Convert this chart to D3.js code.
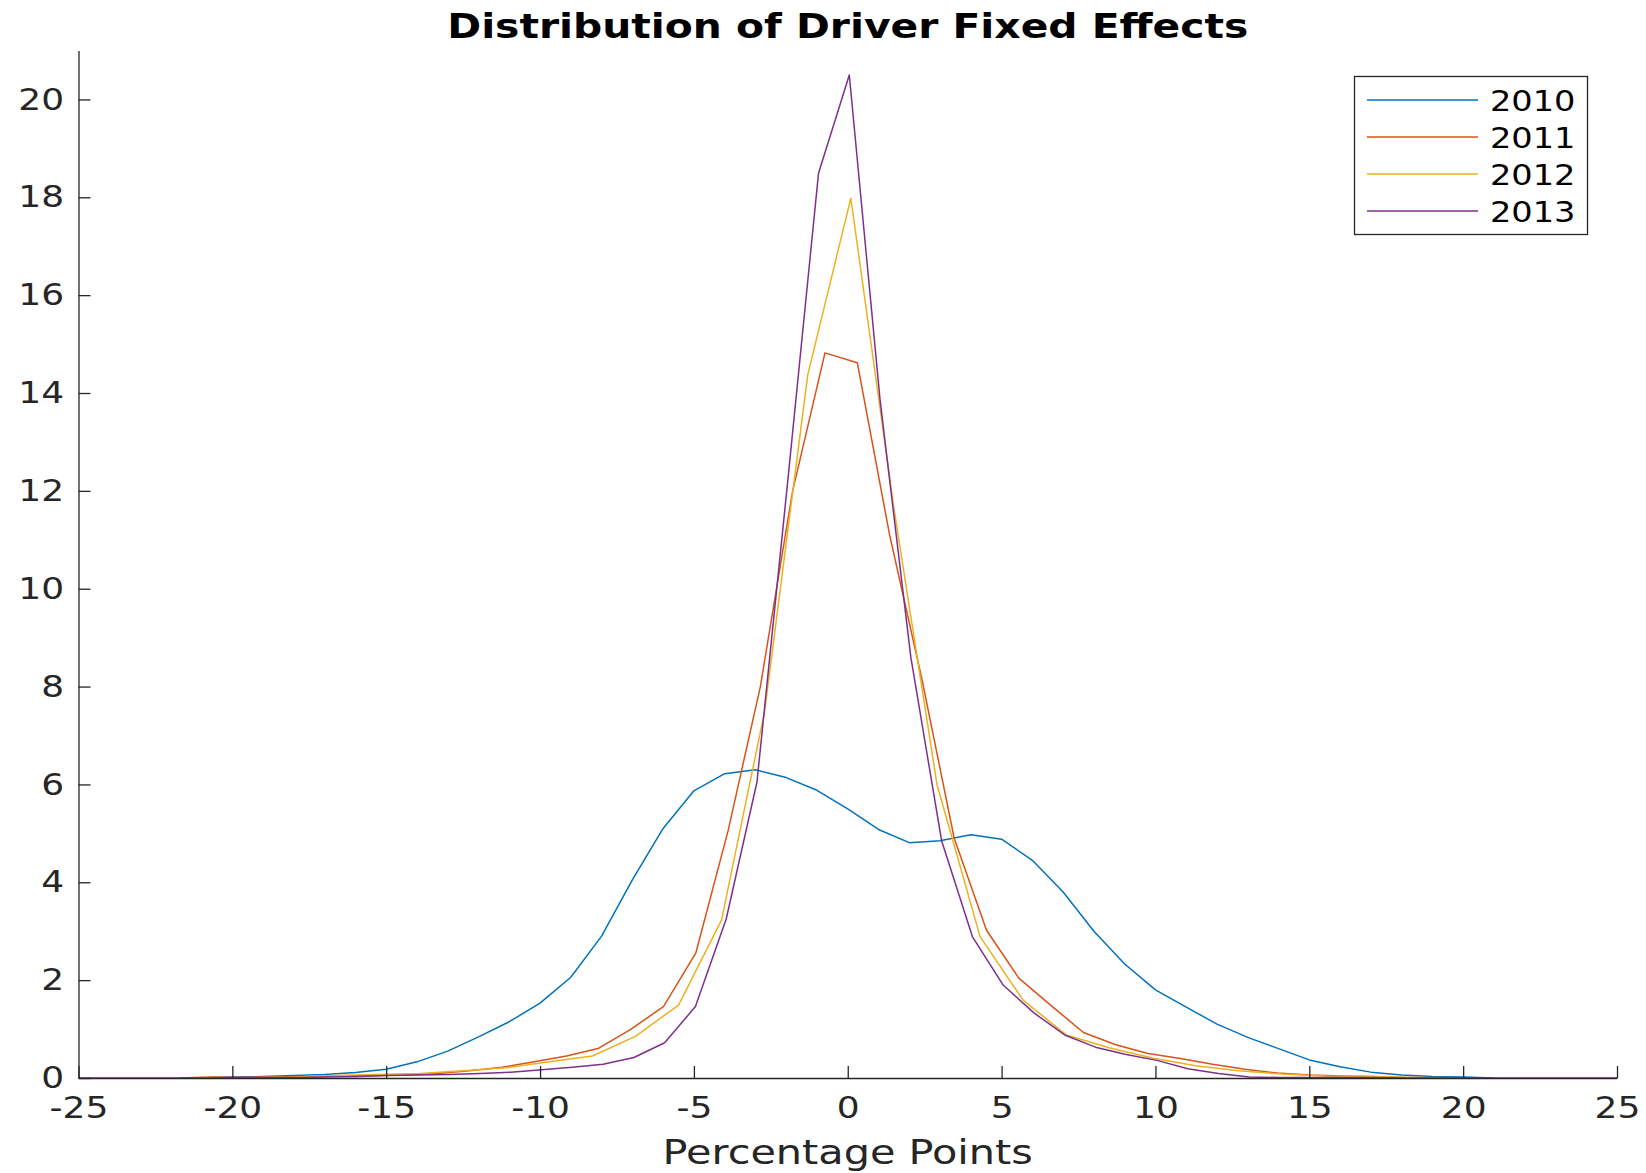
<!DOCTYPE html>
<html>
<head>
<meta charset="utf-8">
<script src="https://cdn.jsdelivr.net/npm/d3@7"></script>
<style>
  body { margin: 0; background: #fff; }
  svg { display: block; }
</style>
</head>
<body>
<div id="chart"></div>
<script>
// series
const years = ["2010", "2011", "2012", "2013"];
const colors = ["#0072BD", "#D95319", "#EDB120", "#7E2F8E"];

const x2010 = [-21, -20, -19, -18, -17, -16, -15, -14, -13, -12, -11, -10, -9, -8, -7, -6, -5, -4, -3, -2, -1,
  0, 1, 2, 3, 4, 5, 6, 7, 8, 9, 10, 11, 12, 13, 14, 15, 16, 17, 18, 19, 20, 21];
const y2010 = [0, 0.02, 0.03, 0.05, 0.07, 0.11, 0.18, 0.33, 0.55, 0.84, 1.15, 1.53, 2.06, 2.9, 4.05, 5.1, 5.87, 6.22, 6.3, 6.14, 5.88,
  5.5, 5.08, 4.81, 4.85, 4.97, 4.88, 4.45, 3.8, 3.0, 2.33, 1.8, 1.45, 1.1, 0.83, 0.6, 0.37, 0.23, 0.12, 0.06, 0.03, 0.02, 0];

const x2011 = [-21.74, -20.69, -19.64, -18.59, -17.54, -16.49, -15.44, -14.39, -13.34, -12.29, -11.24, -10.19, -9.14, -8.09,
  -7.04, -5.99, -4.94, -3.89, -2.84, -1.79, -0.74, 0.31, 1.36, 2.41, 3.46, 4.51, 5.56, 6.61, 7.66, 8.71, 9.76,
  10.81, 11.86, 12.91, 13.96, 15.01, 16.06, 17.11, 18.16, 19.21, 20.26];
const y2011 = [0, 0.02, 0.01, 0.02, 0.03, 0.04, 0.05, 0.06, 0.09, 0.15, 0.22, 0.33, 0.45, 0.61,
  1.0, 1.46, 2.55, 5.05, 8.0, 12.0, 14.82, 14.62, 11.1, 8.15, 4.9, 3.02, 2.04, 1.48, 0.93, 0.68, 0.5,
  0.4, 0.28, 0.18, 0.1, 0.06, 0.04, 0.03, 0.01, 0.01, 0];

const x2012 = [-20.9, -19.5, -18.1, -16.7, -15.3, -13.9, -12.5, -11.1, -9.7, -8.3, -6.9, -5.5, -4.1, -2.7, -1.3,
  0.1, 1.5, 2.9, 4.3, 5.7, 7.1, 8.5, 9.9, 11.3, 12.7, 14.1, 15.5, 16.9, 18.3, 19.7];
const y2012 = [0, 0.01, 0.02, 0.05, 0.07, 0.09, 0.15, 0.21, 0.33, 0.45, 0.85, 1.49, 3.23, 7.5, 14.37,
  17.98, 11.65, 6.0, 2.89, 1.59, 0.88, 0.62, 0.41, 0.25, 0.15, 0.08, 0.04, 0.03, 0.01, 0];

const x2013 = [-25, -20.95, -19.95, -18.95, -17.95, -16.95, -15.95, -14.95, -13.95, -12.95, -11.95, -10.95, -9.95, -8.95,
  -7.95, -6.95, -5.95, -4.95, -3.95, -2.95, -1.95, -0.95, 0.05, 1.05, 2.05, 3.05, 4.05, 5.05, 6.05, 7.05, 8.05,
  9.05, 10.05, 11.05, 12.05, 13.05, 14.05, 15.05, 16.05, 17.05, 18.05, 25];
const y2013 = [0, 0, 0.01, 0.01, 0.01, 0.02, 0.03, 0.05, 0.06, 0.07, 0.09, 0.12, 0.17, 0.22,
  0.28, 0.42, 0.72, 1.46, 3.25, 6.05, 12.2, 18.49, 20.5, 13.86, 8.6, 4.85, 2.89, 1.9, 1.33, 0.88, 0.63,
  0.48, 0.36, 0.19, 0.09, 0.02, 0.01, 0.01, 0.01, 0.01, 0, 0];

const xTicks = [-25, -20, -15, -10, -5, 0, 5, 10, 15, 20, 25];
const yTicks = [0, 2, 4, 6, 8, 10, 12, 14, 16, 18, 20];

const seriesX = [x2010, x2011, x2012, x2013];
const seriesY = [y2010, y2011, y2012, y2013];

// page size and plot box
const W = 1646, H = 1173;
const plot = { left: 78.5, right: 1617, top: 50.5, bottom: 1078 };
const axisColor = "#262626";
const font = "'DejaVu Sans', sans-serif";
const stretch = 1.2; // text in the picture is drawn a bit wide

const svg = d3.select("#chart")
  .append("svg")
  .attr("width", W)
  .attr("height", H);

const x = d3.scaleLinear().domain([-25, 25]).range([plot.left, plot.right]);
const y = d3.scaleLinear().domain([0, 21]).range([plot.bottom, plot.top]);

// lines
const line = d3.line()
  .x((d) => x(d[0]))
  .y((d) => y(d[1]));

seriesX.forEach((xs, i) => {
  const pts = xs.map((v, j) => [v, seriesY[i][j]]);
  svg.append("path")
    .datum(pts)
    .attr("fill", "none")
    .attr("stroke", colors[i])
    .attr("stroke-width", 1.5)
    .attr("stroke-linejoin", "round")
    .attr("d", line);
});

// axes (ticks point inward, no box); plain hyphen for negatives
const plain = (d) => String(d);

const xAxis = svg.append("g")
  .attr("transform", `translate(0,${plot.bottom})`)
  .call(d3.axisBottom(x).tickValues(xTicks).tickFormat(plain)
    .tickSizeInner(-12).tickSizeOuter(0).tickPadding(19));

const yAxis = svg.append("g")
  .attr("transform", `translate(${plot.left},0)`)
  .call(d3.axisLeft(y).tickValues(yTicks).tickFormat(plain)
    .tickSizeInner(-12).tickSizeOuter(0).tickPadding(12));

[xAxis, yAxis].forEach((g) => {
  g.select(".domain").attr("stroke", axisColor).attr("stroke-width", 1.3);
  g.selectAll(".tick line").attr("stroke", axisColor).attr("stroke-width", 1.3);
  g.selectAll(".tick text")
    .attr("fill", axisColor)
    .style("font-family", font)
    .style("font-size", "30px")
    .attr("transform", `scale(${stretch},1)`);
});

// helper for the wide text
const wideText = (px, py, str, size, anchor, weight, fill) =>
  svg.append("text")
    .attr("transform", `translate(${px},${py}) scale(${stretch},1)`)
    .attr("text-anchor", anchor)
    .style("font-family", font)
    .style("font-size", size + "px")
    .style("font-weight", weight)
    .attr("fill", fill)
    .text(str);

// title and axis label
const midX = (plot.left + plot.right) / 2;
wideText(midX, 38, "Distribution of Driver Fixed Effects", 34, "middle", "bold", "#000");
wideText(midX, 1164, "Percentage Points", 34.5, "middle", "normal", axisColor);

// legend
const legend = svg.append("g");
legend.append("rect")
  .attr("x", 1354.5)
  .attr("y", 76.5)
  .attr("width", 233)
  .attr("height", 158)
  .attr("fill", "#fff")
  .attr("stroke", axisColor)
  .attr("stroke-width", 1.3);

const legendRows = [100, 137, 174, 211];
years.forEach((yr, i) => {
  legend.append("line")
    .attr("x1", 1367)
    .attr("x2", 1478)
    .attr("y1", legendRows[i])
    .attr("y2", legendRows[i])
    .attr("stroke", colors[i])
    .attr("stroke-width", 1.5);
  wideText(1490, legendRows[i] + 10.5, yr, 28, "start", "normal", "#000");
});
</script>
</body>
</html>
